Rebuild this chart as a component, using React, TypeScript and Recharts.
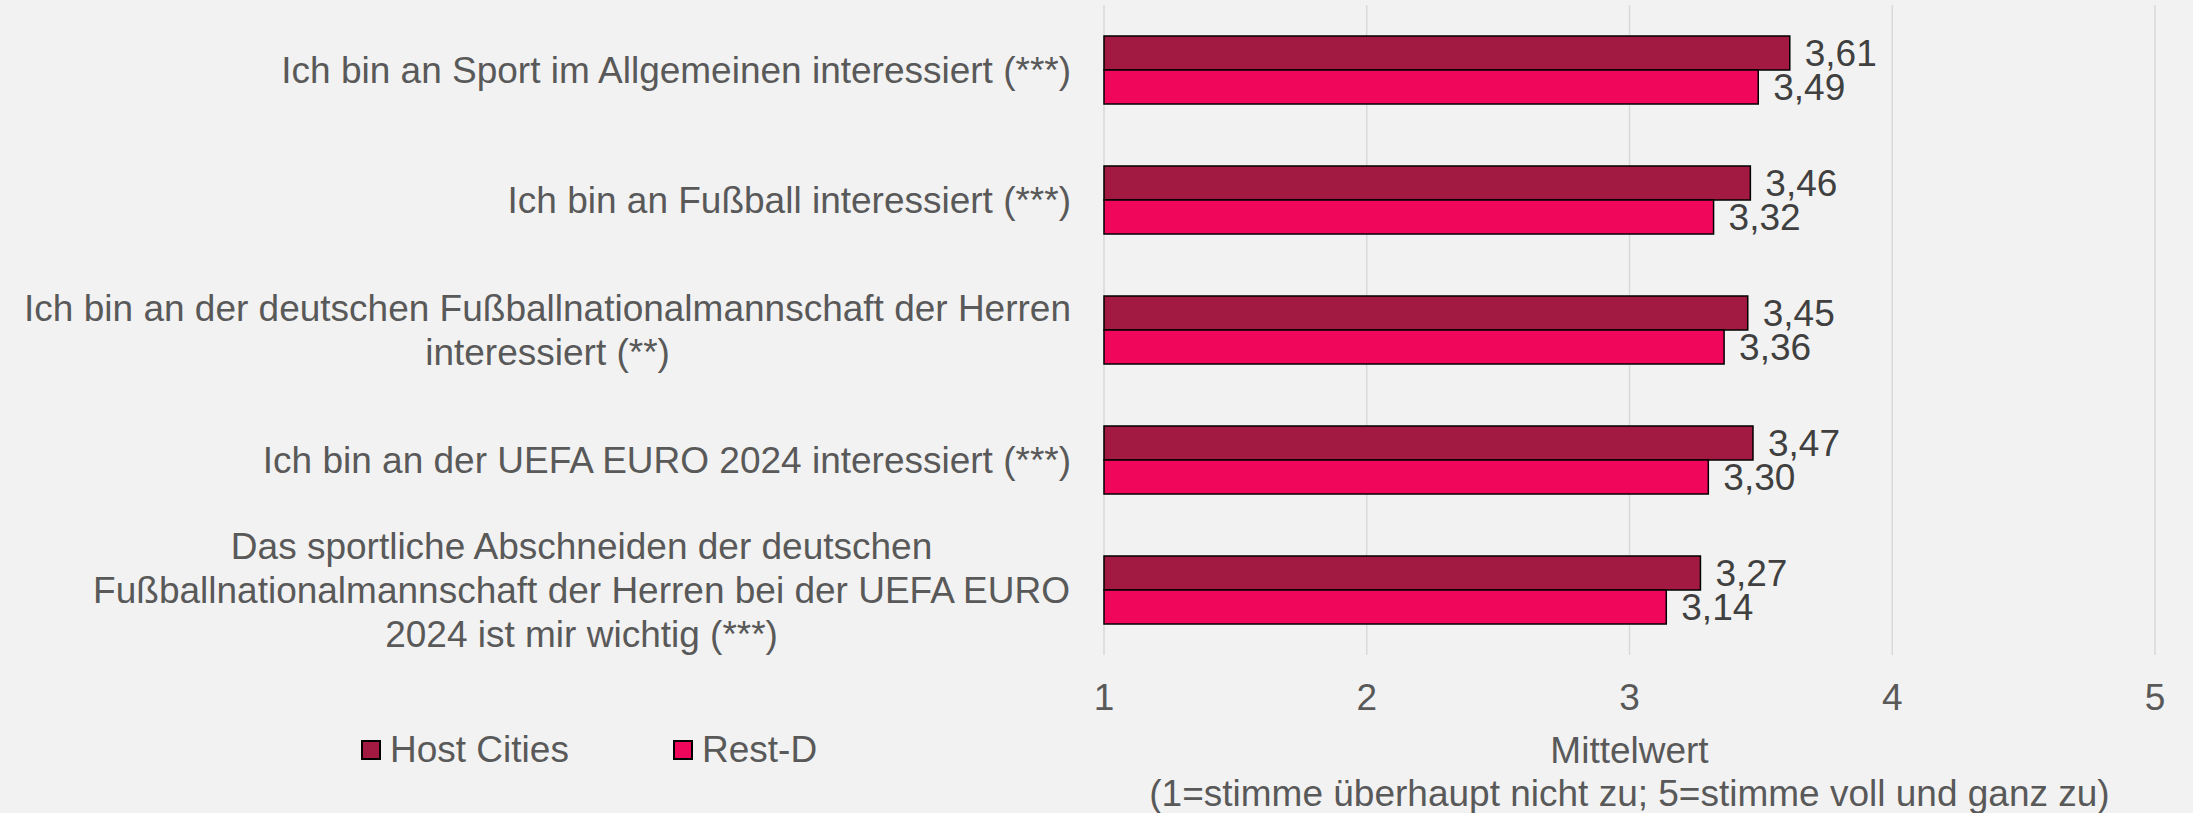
import React from 'react'
import { BarChart, Bar, XAxis, YAxis, CartesianGrid, Legend, LabelList } from 'recharts'

const categories = [
  'Ich bin an Sport im Allgemeinen interessiert (***)',
  'Ich bin an Fußball interessiert (***)',
  'Ich bin an der deutschen Fußballnationalmannschaft der Herren\ninteressiert (**)',
  'Ich bin an der UEFA EURO 2024 interessiert (***)',
  'Das sportliche Abschneiden der deutschen\nFußballnationalmannschaft der Herren bei der UEFA EURO\n2024 ist mir wichtig (***)',
]
const hostCities = [3.61, 3.46, 3.45, 3.47, 3.27]
const restD = [3.49, 3.32, 3.36, 3.3, 3.14]
const xTicks = [1, 2, 3, 4, 5]
const axisTitle = ['Mittelwert', '(1=stimme überhaupt nicht zu; 5=stimme voll und ganz zu)']

const data = categories.map((name, i) => ({ name, host: hostCities[i], rest: restD[i] }))

const FONT = '"Liberation Sans", Arial, sans-serif'
const FS = 37
const GREY = '#595959'
const HOST = '#A21A41'
const REST = '#F0065B'

let ctx: CanvasRenderingContext2D | null = null
function measure(s: string) {
  if (!ctx) ctx = document.createElement('canvas').getContext('2d')
  if (!ctx) return s.length * FS * 0.5
  ctx.font = `${FS}px "Liberation Sans", Arial, sans-serif`
  return ctx.measureText(s).width
}

function CategoryTick({ x, y, payload }: any) {
  const lines = String(payload.value).split('\n')
  const lh = 44
  const y0 = y - ((lines.length - 1) * lh) / 2
  const multi = lines.length > 1
  const cx = multi ? x - Math.max(...lines.map(measure)) / 2 : x
  return (
    <text
      x={cx}
      y={y0}
      textAnchor={multi ? 'middle' : 'end'}
      fill={GREY}
      fontSize={FS}
      fontFamily={FONT}
    >
      {lines.map((l, i) => (
        <tspan key={i} x={cx} y={y0 + i * lh} dy="0.35em">
          {l}
        </tspan>
      ))}
    </text>
  )
}

function AxisTitle({ viewBox }: any) {
  const cx = viewBox.x + viewBox.width / 2
  return (
    <text x={cx} y={viewBox.y} textAnchor="middle" fill={GREY} fontSize={FS} fontFamily={FONT}>
      <tspan x={cx} y={viewBox.y + 108}>{axisTitle[0]}</tspan>
      <tspan x={cx} y={viewBox.y + 151}>{axisTitle[1]}</tspan>
    </text>
  )
}

function LegendContent({ payload }: any) {
  return (
    <div style={{ display: 'flex', alignItems: 'center', fontFamily: FONT, fontSize: FS, lineHeight: '42px', color: GREY }}>
      {(payload || []).map((entry: any) => (
        <div key={entry.value} style={{ display: 'flex', alignItems: 'center', width: 312 }}>
          <span
            style={{
              display: 'inline-block',
              width: 16,
              height: 16,
              border: '2px solid #000',
              background: entry.color,
              marginRight: 9,
            }}
          />
          {entry.value}
        </div>
      ))}
    </div>
  )
}

const fmt = (v: any) => Number(v).toFixed(2).replace('.', ',')

export default function App() {
  return (
    <div style={{ position: 'absolute', left: 0, top: 0, width: 2193, height: 813, background: '#F2F2F2' }}>
      <BarChart
        layout="vertical"
        width={2193}
        height={813}
        data={data}
        margin={{ top: 5, right: 38, bottom: 0, left: 0 }}
        barGap={0}
      >
        <CartesianGrid horizontal={false} stroke="#D9D9D9" strokeWidth={1.5} />
        <XAxis
          type="number"
          domain={[1, 5]}
          ticks={xTicks}
          axisLine={false}
          tickLine={false}
          tickSize={0}
          tickMargin={29}
          height={158}
          tick={{ fill: GREY, fontSize: FS, fontFamily: FONT }}
          label={{ content: AxisTitle }}
        />
        <YAxis
          type="category"
          dataKey="name"
          width={1104}
          axisLine={false}
          tickLine={false}
          tickSize={0}
          tickMargin={33}
          tick={<CategoryTick />}
          interval={0}
        />
        <Legend
          layout="vertical"
          align="center"
          verticalAlign="middle"
          wrapperStyle={{ top: 729, left: 361, width: 'auto' }}
          content={<LegendContent />}
        />
        <Bar dataKey="host" name="Host Cities" fill={HOST} stroke="#000" strokeWidth={1.5} barSize={34} isAnimationActive={false}>
          <LabelList dataKey="host" position="right" offset={15} formatter={fmt} fill="#404040" fontSize={FS} fontFamily={FONT} />
        </Bar>
        <Bar dataKey="rest" name="Rest-D" fill={REST} stroke="#000" strokeWidth={1.5} barSize={34} isAnimationActive={false}>
          <LabelList dataKey="rest" position="right" offset={15} formatter={fmt} fill="#404040" fontSize={FS} fontFamily={FONT} />
        </Bar>
      </BarChart>
    </div>
  )
}
